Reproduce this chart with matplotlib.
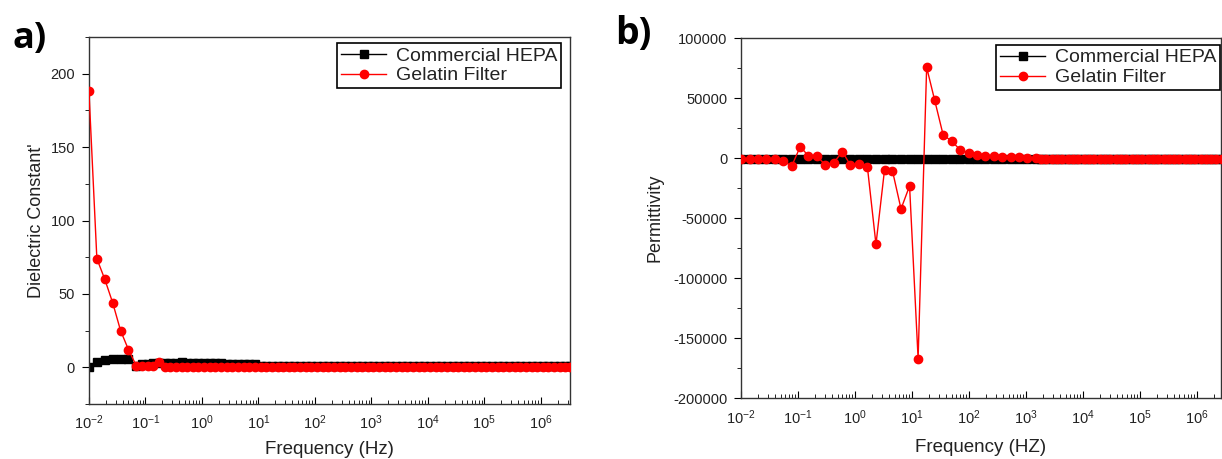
#!/usr/bin/env python3
"""Dielectric constant and permittivity vs frequency, HEPA vs gelatin filter."""
import numpy as np
import matplotlib

matplotlib.use("Agg")
import matplotlib.pyplot as plt
from matplotlib.ticker import LogLocator, MultipleLocator

plt.rcParams["font.family"] = ["Liberation Sans", "DejaVu Sans"]
plt.rcParams["mathtext.fontset"] = "custom"
plt.rcParams["mathtext.rm"] = "Liberation Sans"
plt.rcParams["mathtext.it"] = "Liberation Sans"
plt.rcParams["axes.unicode_minus"] = False

SERIES = ["Commercial HEPA", "Gelatin Filter"]

# panel a: log10 of frequency (Hz)
LOGF_A = [-2.00, -1.86, -1.72, -1.58, -1.44, -1.30, -1.16,
          -1.06, -0.96, -0.86, -0.76, -0.66, -0.56, -0.46, -0.36, -0.26, -0.16,
          -0.06, 0.04, 0.14, 0.24, 0.34, 0.44, 0.54, 0.64, 0.74, 0.84,
          0.94, 1.04, 1.14, 1.24, 1.34, 1.44, 1.54, 1.64, 1.74, 1.84,
          1.94, 2.04, 2.14, 2.24, 2.34, 2.44, 2.54, 2.64, 2.74, 2.84,
          2.94, 3.04, 3.14, 3.24, 3.34, 3.44, 3.54, 3.64, 3.74, 3.84,
          3.94, 4.04, 4.14, 4.24, 4.34, 4.44, 4.54, 4.64, 4.74, 4.84,
          4.94, 5.04, 5.14, 5.24, 5.34, 5.44, 5.54, 5.64, 5.74, 5.84,
          5.94, 6.04, 6.14, 6.24, 6.34, 6.44, 6.52]
HEPA_A = [0.5, 3.8, 5.0, 5.6, 6.0, 5.5, 1.2,
          2.2, 2.4, 3.0, 3.2, 2.6, 2.8, 3.2, 3.4, 3.2, 2.6,
          2.6, 2.6, 2.6, 2.6, 2.6, 2.5, 2.5, 2.5, 2.5, 2.5,
          2.4, 1.0, 1.0, 1.0, 1.0, 1.0, 1.0, 1.0, 1.0, 1.0,
          1.0, 1.0, 1.0, 1.0, 1.0, 1.0, 1.0, 1.0, 1.0, 1.0,
          1.0, 1.0, 1.0, 1.0, 1.0, 1.0, 1.0, 1.0, 1.0, 1.0,
          1.0, 1.0, 1.0, 1.0, 1.0, 1.0, 1.0, 1.0, 1.0, 1.0,
          1.0, 1.0, 1.0, 1.0, 1.0, 1.0, 1.0, 1.0, 1.0, 1.0,
          1.0, 1.0, 1.0, 1.0, 1.0, 1.0, 1.0]
GELATIN_A = [188, 74, 60, 44, 25, 12, 1.0,
             1.0, 1.0, 1.2, 3.3, 0.4, 0.3, 0.3, 0.3, 0.3, 0.3,
             0.3, 0.3, 0.3, 0.3, 0.3, 0.3, 0.3, 0.3, 0.3, 0.3,
             0.3, 0.3, 0.3, 0.3, 0.3, 0.3, 0.3, 0.3, 0.3, 0.3,
             0.3, 0.3, 0.3, 0.3, 0.3, 0.3, 0.3, 0.3, 0.3, 0.3,
             0.3, 0.3, 0.3, 0.3, 0.3, 0.3, 0.3, 0.3, 0.3, 0.3,
             0.3, 0.3, 0.3, 0.3, 0.3, 0.3, 0.3, 0.3, 0.3, 0.3,
             0.3, 0.3, 0.3, 0.3, 0.3, 0.3, 0.3, 0.3, 0.3, 0.3,
             0.3, 0.3, 0.3, 0.3, 0.3, 0.3, 0.3]

# panel b: log10 of frequency (Hz)
LOGF_B = [-2.00, -1.85, -1.70, -1.56, -1.41, -1.26, -1.11, -0.96, -0.82,
          -0.67, -0.52, -0.37, -0.22, -0.08, 0.07, 0.22, 0.37, 0.52,
          0.66, 0.81, 0.96, 1.11, 1.26, 1.40, 1.55, 1.70, 1.85,
          2.00, 2.14, 2.29, 2.44, 2.59, 2.74, 2.88, 3.03, 3.18,
          3.27, 3.36, 3.46, 3.55, 3.64, 3.74, 3.83, 3.92, 4.02,
          4.11, 4.20, 4.30, 4.39, 4.48, 4.58, 4.67, 4.76, 4.86,
          4.95, 5.04, 5.14, 5.23, 5.32, 5.42, 5.51, 5.60, 5.70,
          5.79, 5.88, 5.98, 6.07, 6.16, 6.26, 6.35, 6.44]
HEPA_B = [-600, -600, -600, -600, -600, -600, -600, -600, -600,
          -600, -600, -600, -600, -600, -600, -600, -600, -600,
          -600, -600, -600, -600, -600, -600, -600, -600, -600,
          -700, -700, -700, -700, -800, -800, -800, -800, -900,
          -900, -900, -900, -900, -900, -900, -900, -900, -900,
          -900, -900, -900, -900, -900, -900, -900, -900, -900,
          -900, -900, -900, -900, -900, -900, -900, -900, -900,
          -900, -900, -900, -900, -900, -900, -900, -900]
GELATIN_B = [-300, -300, -300, -500, -800, -2000, -6500, 9700, 2200,
             2200, -5600, -3600, 5500, -5600, -5000, -7500, -71700, -9700,
             -10500, -42200, -23000, -167000, 75800, 48600, 19400, 14400, 6900,
             4700, 2800, 2000, 1500, 1200, 900, 700, 600, 400,
             -500, -600, -600, -600, -600, -600, -600, -600, -600,
             -600, -600, -600, -600, -600, -600, -600, -600, -600,
             -600, -600, -600, -600, -600, -600, -600, -600, -600,
             -600, -600, -600, -600, -600, -600, -600, -600]

TXT = "#222222"


def panel(fig, rect, logf, hepa, gel, xmax_exp, ylim, ymajor, ylabel, xlabel,
          legend_anchor, ylpad, xlpad):
    ax = fig.add_axes(rect)
    f = 10 ** np.array(logf)
    ax.plot(f, hepa, "-s", color="black", lw=1, ms=6, label=SERIES[0], zorder=2)
    ax.plot(f, gel, "-o", color="red", lw=1, ms=6, label=SERIES[1], zorder=3)
    ax.set_xscale("log")
    ax.set_xlim(1e-2, 10 ** xmax_exp)
    ax.set_ylim(*ylim)
    ax.xaxis.set_major_locator(LogLocator(base=10, numticks=20))
    ax.xaxis.set_minor_locator(LogLocator(base=10, subs=np.arange(2, 10), numticks=20))
    ax.yaxis.set_major_locator(MultipleLocator(ymajor))
    ax.yaxis.set_minor_locator(MultipleLocator(ymajor / 2))
    ax.tick_params(axis="x", which="both", direction="in", top=False,
                   labelsize=10.5, labelcolor=TXT, pad=7)
    ax.tick_params(axis="x", which="major", length=5)
    ax.tick_params(axis="x", which="minor", length=3)
    ax.tick_params(axis="y", which="both", direction="out", right=False,
                   labelsize=10.5, labelcolor=TXT, pad=5)
    ax.tick_params(axis="y", which="major", length=5)
    ax.tick_params(axis="y", which="minor", length=3)
    for s in ax.spines.values():
        s.set_color("#333333")
        s.set_linewidth(1.0)
    ax.set_ylabel(ylabel, fontsize=13, color=TXT, labelpad=ylpad)
    ax.set_xlabel(xlabel, fontsize=13.5, color=TXT, labelpad=xlpad)
    leg = ax.legend(loc="upper right", bbox_to_anchor=legend_anchor,
                    bbox_transform=fig.transFigure, borderaxespad=0,
                    fontsize=14, numpoints=1, handlelength=2.3,
                    handletextpad=0.5, borderpad=0.2, labelspacing=0.12,
                    fancybox=False, framealpha=1, edgecolor="black")
    leg.get_frame().set_linewidth(1.2)
    for t in leg.get_texts():
        t.set_color(TXT)
    return ax


def main():
    fig = plt.figure(figsize=(12.22, 4.59), dpi=100)
    panel(fig, [0.0728, 0.1198, 0.3936, 0.7996], LOGF_A, HEPA_A, GELATIN_A,
          6.52, (-25, 225), 50, "Dielectric Constant'", "Frequency (Hz)",
          (0.4591, 0.9063), 4, 6)
    panel(fig, [0.6064, 0.1322, 0.3928, 0.7844], LOGF_B, HEPA_B, GELATIN_B,
          6.43, (-200000, 100000), 50000, "Permittivity", "Frequency (HZ)",
          (0.9984, 0.902), 7, 9)
    fig.text(0.010, 0.915, "a)", fontsize=26, fontweight="bold",
             family="Open Sans", va="center", ha="left")
    fig.text(0.503, 0.925, "b)", fontsize=27, fontweight="bold",
             family="Open Sans", va="center", ha="left")
    fig.savefig("out.png", dpi=100, facecolor="white")


if __name__ == "__main__":
    main()
